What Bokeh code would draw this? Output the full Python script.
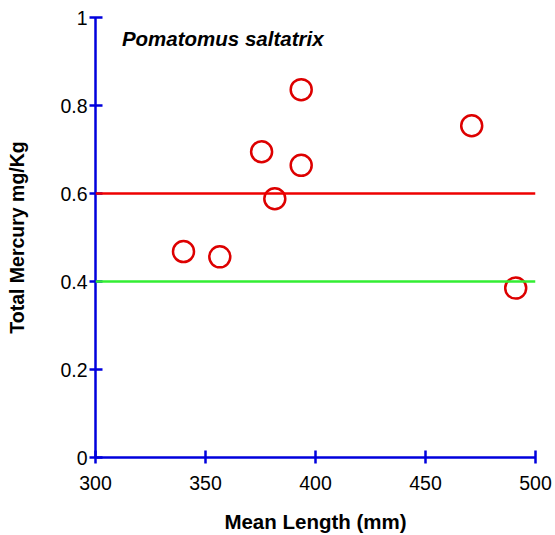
from bokeh.plotting import figure
from bokeh.models import Range1d, FixedTicker, CustomJSTickFormatter, Span, Label
from bokeh.embed import file_html
from bokeh.resources import INLINE

mean_length = [340, 356.5, 375.5, 381.5, 393.5, 393.5, 471, 491]
mercury = [0.468, 0.456, 0.695, 0.588, 0.836, 0.664, 0.754, 0.385]
red_threshold = 0.6
green_threshold = 0.4
x_ticks = [300, 350, 400, 450, 500]
y_ticks = [0, 0.2, 0.4, 0.6, 0.8, 1]
species = "Pomatomus saltatrix"

FONT = "Liberation Sans"
BLUE = "#0000DD"

p = figure(width=553, height=535, output_backend="svg", toolbar_location=None,
           x_range=Range1d(300, 500), y_range=Range1d(0, 1),
           min_border_left=95, min_border_right=18, min_border_top=17, min_border_bottom=78)
p.outline_line_color = None
p.xgrid.visible = False
p.ygrid.visible = False

for ax in (p.xaxis[0], p.yaxis[0]):
    ax.axis_line_color = BLUE
    ax.axis_line_width = 2.5
    ax.major_tick_line_color = BLUE
    ax.major_tick_line_width = 2.5
    ax.major_tick_in = 7
    ax.major_tick_out = 6
    ax.minor_tick_line_color = None
    ax.major_label_text_font = FONT
    ax.major_label_text_font_size = "19.5px"
    ax.major_label_text_color = "black"
    ax.axis_label_text_font = FONT
    ax.axis_label_text_font_style = "bold"
    ax.axis_label_text_color = "black"

p.xaxis.axis_label_text_font_size = "20.5px"
p.yaxis.axis_label_text_font_size = "19.5px"
p.xaxis.ticker = FixedTicker(ticks=x_ticks)
p.yaxis.ticker = FixedTicker(ticks=y_ticks)
p.yaxis.formatter = CustomJSTickFormatter(code="return String(Math.round(tick*10)/10)")
p.xaxis.axis_label = "Mean Length (mm)"
p.yaxis.axis_label = "Total Mercury mg/Kg"
p.xaxis.major_label_standoff = 12
p.yaxis.major_label_standoff = 2
p.xaxis.axis_label_standoff = 17
p.yaxis.axis_label_standoff = 29

p.add_layout(Span(location=red_threshold, dimension="width", line_color="#EE0000", line_width=2.5))
p.add_layout(Span(location=green_threshold, dimension="width", line_color="#33EE33", line_width=2.5))

p.scatter(mean_length, mercury, marker="circle", size=21, fill_color=None,
          line_color="#DD0000", line_width=2.5)

p.add_layout(Label(x=312, y=0.952, text=species, text_font=FONT, text_font_size="20.5px",
                   text_font_style="bold italic", text_color="black",
                   text_baseline="middle", text_align="left"))

open("out.html", "w").write(file_html(p, INLINE))
